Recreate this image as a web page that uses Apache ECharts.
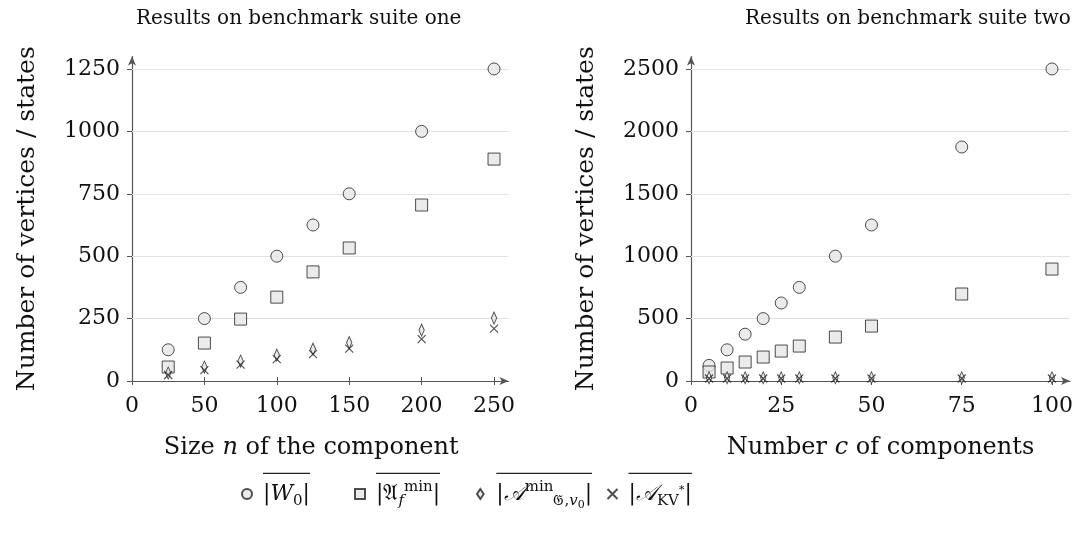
<!DOCTYPE html>
<html>
<head>
<meta charset="utf-8">
<script src="https://cdn.jsdelivr.net/npm/echarts@6/dist/echarts.min.js"></script>
<style>
  html, body { margin: 0; padding: 0; background: #fff; }
  #chart { width: 1086px; height: 538px; }
</style>
</head>
<body>
<div id="chart"></div>
<script>
// suite one: size n of the component
const sizeN = [25, 50, 75, 100, 125, 150, 200, 250]
const oneW0 = [125, 250, 375, 500, 625, 750, 1000, 1250]
const oneAf = [56, 152, 248, 336, 437, 533, 705, 889]
const oneAG = [32, 56, 80, 104, 128, 154, 204, 252]
const oneKV = [24, 44, 66, 88, 108, 130, 168, 210]

// suite two: number c of components
const numC = [5, 10, 15, 20, 25, 30, 40, 50, 75, 100]
const twoW0 = [125, 250, 375, 500, 625, 750, 1000, 1250, 1875, 2500]
const twoAf = [72, 104, 152, 192, 240, 280, 352, 440, 697, 897]
const twoAG = [26, 26, 26, 26, 26, 26, 26, 26, 26, 26]
const twoKV = [20, 20, 20, 20, 20, 20, 20, 20, 20, 20]

const xTicksOne = [0, 50, 100, 150, 200, 250]
const yTicksOne = [0, 250, 500, 750, 1000, 1250]
const xTicksTwo = [0, 25, 50, 75, 100]
const yTicksTwo = [0, 500, 1000, 1500, 2000, 2500]

const names = ['W0', 'Af', 'AG', 'KV']

const serif = '"DejaVu Serif", serif'
const ink = '#111'
const axisCol = '#555'
const fill = '#e6e6e6'

// legend math pieces: [style, text]
const legendTokens = {
  W0: [['t', '|'], ['it', 'W'], ['sub', '0'], ['t', '|']],
  Af: [['t', '|'], ['t', '\u{1D504}'], ['subit', 'f'], ['sup', 'min'], ['t', '|']],
  AG: [['t', '|'], ['it', '\u{1D49C}'], ['sup', 'min'], ['sub', '\u{1D50A},'], ['subit', 'v'], ['subsub', '0'], ['t', '|']],
  KV: [['t', '|'], ['it', '\u{1D49C}'], ['sub', 'KV'], ['supsub', '*'], ['t', '|']]
}
const tokenFont = {
  t: '22px ' + serif, it: 'italic 22px ' + serif,
  sub: '15px ' + serif, sup: '15px ' + serif, subit: 'italic 15px ' + serif,
  subsub: '11px ' + serif, supsub: '11px ' + serif
}
const ctx = document.createElement('canvas').getContext('2d')
const measure = toks => toks.reduce((s, [k, txt]) => { ctx.font = tokenFont[k]; return s + ctx.measureText(txt).width }, 0)

const rich = {
  t: { fontFamily: serif, fontSize: 22, color: ink, lineHeight: 40 },
  it: { fontFamily: serif, fontSize: 22, fontStyle: 'italic', color: ink, lineHeight: 40 },
  sub: { fontFamily: serif, fontSize: 15, color: ink, lineHeight: 40, padding: [14, 0, 0, 0] },
  subit: { fontFamily: serif, fontSize: 15, fontStyle: 'italic', color: ink, lineHeight: 40, padding: [14, 0, 0, 0] },
  subsub: { fontFamily: serif, fontSize: 11, color: ink, lineHeight: 40, padding: [22, 0, 0, 0] },
  sup: { fontFamily: serif, fontSize: 15, color: ink, lineHeight: 40, padding: [0, 0, 14, 0] },
  supsub: { fontFamily: serif, fontSize: 11, color: ink, lineHeight: 40, padding: [0, 0, 8, 0] },
  gap: { width: 6, lineHeight: 12 }
}
const legendText = {}
names.forEach(n => {
  const w = measure(legendTokens[n])
  rich['bar' + n] = { width: w, height: 1.2, backgroundColor: '#222', lineHeight: 12, verticalAlign: 'bottom' }
  legendText[n] = '{gap|}{bar' + n + '|}\n{gap|}' +
    legendTokens[n].map(([k, txt]) => '{' + k + '|' + txt + '}').join('') + '\n{gap|}'
})

const markerStyle = { color: fill, borderColor: '#222', borderWidth: 1 }
const symbols = {
  W0: { symbol: 'circle', symbolSize: 12, itemStyle: markerStyle },
  Af: { symbol: 'rect', symbolSize: 12, itemStyle: markerStyle },
  AG: { symbol: 'path://M4,0L8,6L4,12L0,6Z', symbolSize: [8, 12], symbolKeepAspect: true, itemStyle: markerStyle },
  KV: { symbol: 'path://M0,0L8,8M8,0L0,8', symbolSize: 8, itemStyle: { color: 'none', borderColor: '#222', borderWidth: 1.1 } }
}

const gridLines = ticks => ({
  silent: true, symbol: ['none', 'none'], animation: false, z: 1,
  label: { show: false },
  lineStyle: { color: '#e2e2e2', width: 1, type: 'solid' },
  data: ticks.filter(v => v > 0).map(v => ({ yAxis: v }))
})

const makeSeries = (gi, xs, ys, ticks) => names.map((n, i) => Object.assign({
  name: n,
  type: 'scatter',
  xAxisIndex: gi * 2,
  yAxisIndex: gi * 2,
  z: 3,
  data: xs.map((x, j) => [x, ys[i][j]]),
  markLine: i === 0 ? gridLines(ticks) : undefined
}, symbols[n]))

const plain = v => String(v)

const xAxisPair = (gi, max, ticks, name, namePad) => [
  {
    type: 'value', gridIndex: gi, min: 0, max: max, position: 'bottom',
    name: name, nameLocation: 'middle', nameGap: 55,
    nameTextStyle: { padding: namePad, rich: {
      r: { fontFamily: serif, fontSize: 24, color: ink },
      i: { fontFamily: serif, fontSize: 24, fontStyle: 'italic', color: ink }
    } },
    axisLine: { show: true, onZero: false, symbol: ['none', 'arrow'], symbolSize: [6, 9], lineStyle: { color: axisCol, width: 1.2 } },
    axisTick: { show: true, length: 4, customValues: ticks, lineStyle: { color: axisCol } },
    axisLabel: { customValues: ticks, formatter: plain, fontFamily: serif, fontSize: 22, color: ink, margin: 14 },
    splitLine: { show: false }
  },
  {
    type: 'value', gridIndex: gi, min: 0, max: max, position: 'bottom',
    axisLine: { show: false },
    axisTick: { show: true, inside: true, length: 4, customValues: ticks, lineStyle: { color: axisCol } },
    axisLabel: { show: false },
    splitLine: { show: false }
  }
]

const yAxisPair = (gi, max, ticks) => [
  {
    type: 'value', gridIndex: gi, min: 0, max: max, position: 'left',
    name: 'Number of vertices / states', nameLocation: 'middle', nameGap: 92, nameRotate: 90,
    nameTextStyle: { fontFamily: serif, fontSize: 25, color: ink },
    axisLine: { show: true, onZero: false, symbol: ['none', 'arrow'], symbolSize: [6, 9], lineStyle: { color: axisCol, width: 1.2 } },
    axisTick: { show: true, length: 5, customValues: ticks, lineStyle: { color: axisCol } },
    axisLabel: { customValues: ticks, formatter: plain, fontFamily: serif, fontSize: 22, color: ink, margin: 12 },
    splitLine: { show: false }
  },
  {
    type: 'value', gridIndex: gi, min: 0, max: max, position: 'left',
    axisLine: { show: false },
    axisTick: { show: true, inside: true, length: 4, customValues: ticks, lineStyle: { color: axisCol } },
    axisLabel: { show: false },
    splitLine: { show: false }
  }
]

const legendPos = { W0: 241, Af: 354, AG: 476, KV: 605 }

const chart = echarts.init(document.getElementById('chart'))
chart.setOption({
  animation: false,
  backgroundColor: '#fff',
  title: [
    { text: 'Results on benchmark suite one', left: 131, top: 4, textStyle: { fontFamily: serif, fontSize: 20, fontWeight: 'normal', color: ink } },
    { text: 'Results on benchmark suite two', left: 740, top: 4, textStyle: { fontFamily: serif, fontSize: 20, fontWeight: 'normal', color: ink } }
  ],
  grid: [
    { left: 132, top: 56.5, width: 376.5, height: 324.5 },
    { left: 691, top: 56.5, width: 379, height: 324.5 }
  ],
  legend: names.map(n => ({
    data: [n],
    left: legendPos[n],
    top: 462,
    padding: 0,
    itemWidth: 10,
    itemHeight: 10,
    selectedMode: false,
    formatter: () => legendText[n],
    textStyle: { rich: rich }
  })),
  xAxis: [
    ...xAxisPair(0, 260, xTicksOne, '{r|Size }{i|n}{r| of the component}', [0, 18, 0, 0]),
    ...xAxisPair(1, 105, xTicksTwo, '{r|Number }{i|c}{r| of components}', 0)
  ],
  yAxis: [
    ...yAxisPair(0, 1300, yTicksOne),
    ...yAxisPair(1, 2600, yTicksTwo)
  ],
  series: [
    ...makeSeries(0, sizeN, [oneW0, oneAf, oneAG, oneKV], yTicksOne),
    ...makeSeries(1, numC, [twoW0, twoAf, twoAG, twoKV], yTicksTwo)
  ]
})
</script>
</body>
</html>
